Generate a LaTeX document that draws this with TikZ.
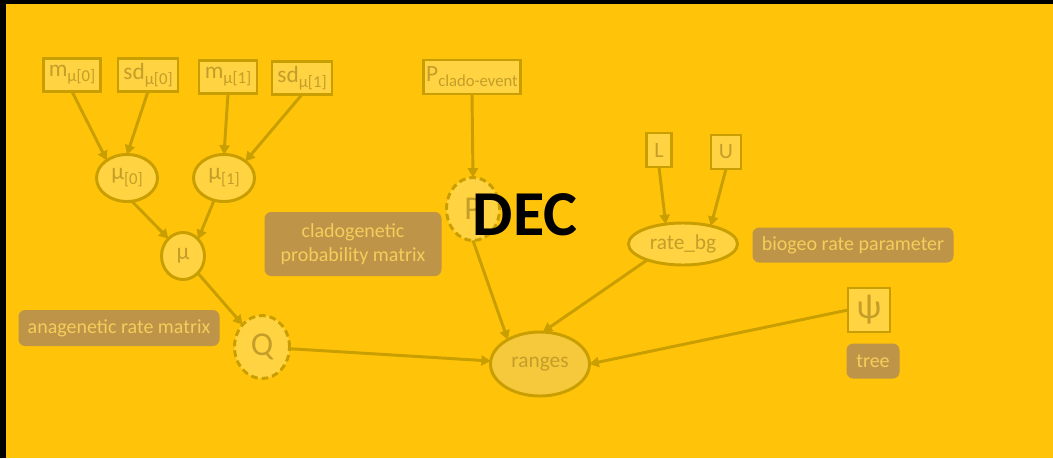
\documentclass[tikz,border=0pt]{standalone}
\usepackage{fontspec}
\setmainfont{Carlito}
\usetikzlibrary{shapes.geometric,arrows.meta}
\definecolor{bgc}{RGB}{255,195,10}
\definecolor{nfill}{RGB}{255,211,66}
\definecolor{ndraw}{RGB}{200,158,0}
\definecolor{ntext}{RGB}{196,158,40}
\definecolor{lfill}{RGB}{190,148,72}
\definecolor{ltext}{RGB}{245,205,90}
\definecolor{rfill}{RGB}{246,200,60}
\newcommand\subs[1]{\raisebox{-0.45ex}{\fontsize{12.5}{12.5}\selectfont #1}}
\tikzset{
  every node/.style={inner sep=0pt,outer sep=0pt},
  pbox/.style={rectangle,draw=ndraw,fill=nfill,line width=2.2pt,text=ntext,font=\fontsize{17.5}{17.5}\selectfont},
  pell/.style={ellipse,draw=ndraw,fill=nfill,line width=2.2pt,text=ntext,font=\fontsize{16}{16}\selectfont},
  pdash/.style={pell,dash pattern=on 5pt off 3pt},
  lab/.style={rectangle,rounded corners=5pt,fill=lfill,text=ltext,font=\fontsize{15}{18}\selectfont,align=center},
  conn/.style={draw=ndraw,line width=2.2pt,-{Triangle[length=7pt,width=7.5pt]}}
}
\begin{document}
\begin{tikzpicture}[x=0.75pt,y=-0.75pt]
\useasboundingbox (0,0) rectangle (1053,458);
\fill[bgc] (0,0) rectangle (1053,458);
\fill[black] (0,0) rectangle (1053,4);
\fill[black] (0,0) rectangle (6,458);
% parameter boxes
\node[pbox,minimum width=57*0.75pt,minimum height=33*0.75pt] (m0) at (72,75) {m\subs{μ[0]}};
\node[pbox,minimum width=60*0.75pt,minimum height=33*0.75pt] (sd0) at (148,75) {sd\subs{μ[0]}};
\node[pbox,minimum width=58*0.75pt,minimum height=33*0.75pt] (m1) at (228,77) {m\subs{μ[1]}};
\node[pbox,minimum width=60*0.75pt,minimum height=33*0.75pt] (sd1) at (302,78) {sd\subs{μ[1]}};
\node[pell,minimum width=61*0.75pt,minimum height=47*0.75pt,font=\fontsize{17.5}{17.5}\selectfont] (mu0) at (127,178) {μ\subs{[0]}};
\node[pell,minimum width=61*0.75pt,minimum height=47*0.75pt,font=\fontsize{17.5}{17.5}\selectfont] (mu1) at (224,178) {μ\subs{[1]}};
\node[pell,minimum width=43*0.75pt,minimum height=47*0.75pt,font=\fontsize{17.5}{17.5}\selectfont] (mu) at (183,256) {μ};
\node[pdash,minimum width=55*0.75pt,minimum height=63*0.75pt,font=\fontsize{25}{25}\selectfont] (Q) at (262,347) {Q};
\node[lab,minimum width=201*0.75pt,minimum height=36*0.75pt] (ana) at (119,328) {anagenetic rate matrix};
\node[lab,minimum width=177*0.75pt,minimum height=64*0.75pt] (clado) at (353,244) {cladogenetic\\probability matrix};
\node[pbox,minimum width=97*0.75pt,minimum height=34*0.75pt] (Pc) at (472,77) {P\subs{clado-event}};
\node[pdash,minimum width=53*0.75pt,minimum height=63*0.75pt,font=\fontsize{25}{25}\selectfont] (P) at (473,209) {P};
\node[pbox,minimum width=25*0.75pt,minimum height=34*0.75pt,font=\fontsize{16.5}{16.5}\selectfont] (L) at (659,150) {L};
\node[pbox,minimum width=30*0.75pt,minimum height=34*0.75pt,font=\fontsize{16.5}{16.5}\selectfont] (U) at (726,152) {U};
\node[pell,minimum width=109*0.75pt,minimum height=42*0.75pt] (rbg) at (683,244) {rate\_bg};
\node[lab,minimum width=201*0.75pt,minimum height=35*0.75pt] (bio) at (853,245) {biogeo rate parameter};
\node[pbox,minimum width=42*0.75pt,minimum height=44*0.75pt,font=\fontsize{26}{26}\selectfont] (psi) at (869,310) {ψ};
\node[lab,minimum width=53*0.75pt,minimum height=35*0.75pt] (tree) at (873,361) {tree};
\node[pell,fill=rfill,minimum width=99*0.75pt,minimum height=64*0.75pt] (ranges) at (540,364) {ranges};
% connectors
\draw[conn] (m0.south) -- (mu0.139);
\draw[conn] (sd0.south) -- (mu0.north);
\draw[conn] (m1.south) -- (mu1.north);
\draw[conn] (sd1.south) -- (mu1.38);
\draw[conn] (mu0.-78) -- (mu.130);
\draw[conn] (mu1.246) -- (mu.48);
\draw[conn] (mu) -- (Q);
\draw[conn] (Q) -- (ranges);
\draw[conn] (Pc.south) -- (P.north);
\draw[conn] (P.south) -- (ranges.143);
\draw[conn] (L.south) -- (rbg.131);
\draw[conn] (U.south) -- (rbg.33);
\draw[conn] (rbg.204) -- (ranges.85);
\draw[conn] (psi.west) -- (ranges.east);
\node[font=\fontsize{48}{48}\selectfont\bfseries,text=black] (dec) at (525,215) {DEC};
\end{tikzpicture}
\end{document}
